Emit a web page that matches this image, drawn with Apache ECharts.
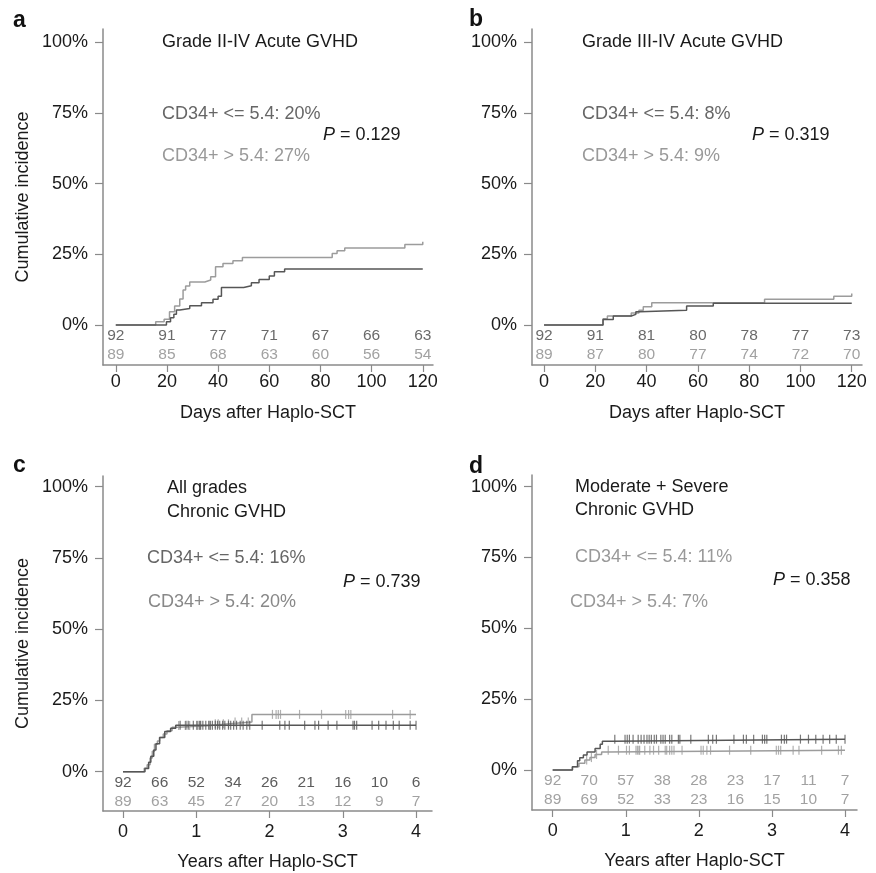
<!DOCTYPE html>
<html>
<head>
<meta charset="utf-8">
<script src="https://cdn.jsdelivr.net/npm/echarts@6/dist/echarts.min.js"></script>
<style>html,body{margin:0;padding:0;background:#fff}#c{width:876px;height:873px}</style>
</head>
<body>
<div id="c"></div>
<script>
// ---------- DATA ----------
// Panel a: Grade II-IV acute GVHD (days)
const aLowT  = [0, 19.8, 21.4, 22.7, 23.7, 25, 28.9, 33.5, 38, 40, 41.3, 50, 53, 56, 60, 62, 66, 120];
const aLowV  = [0, 1.2, 2.6, 3.8, 5.3, 5.9, 6.8, 7.9, 9.1, 10.2, 13.3, 13.9, 15.0, 16.1, 17.3, 18.8, 19.8, 19.8];
const aHighT = [0, 15.6, 18.9, 21, 23, 25, 26.3, 27.3, 28.9, 34.8, 37.1, 39, 41.9, 45.8, 49.5, 84.6, 86.5, 89.5, 113, 120];
const aHighV = [0, 1.2, 2.1, 4.7, 6.7, 9.2, 12.4, 13.8, 15.2, 15.9, 17.1, 20.6, 21.8, 22.7, 23.9, 25.3, 26.3, 27.2, 28.5, 29.4];
// Panel b: Grade III-IV acute GVHD (days)
const bLowT  = [0, 23, 27, 34, 35.8, 37.4, 55.6, 66, 120];
const bLowV  = [0, 2.0, 3.2, 3.8, 4.7, 5.2, 6.7, 7.7, 7.7];
const bHighT = [0, 23, 24.7, 34, 37, 38.7, 42, 86, 113, 120];
const bHighV = [0, 2.2, 3.2, 4.3, 5.2, 6.5, 7.9, 9.1, 10.2, 11.2];
// Panel c: all grades chronic GVHD (years)
const cLowT  = [0, 0.30, 0.35, 0.38, 0.42, 0.45, 0.50, 0.57, 0.65, 0.72, 4.0];
const cLowV  = [0, 1.1, 3.3, 5.4, 7.6, 9.8, 12.0, 14.1, 15.2, 16.3, 16.3];
const cHighT = [0, 0.29, 0.33, 0.37, 0.40, 0.43, 0.47, 0.50, 0.55, 0.60, 0.67, 0.75, 1.2, 1.45, 1.76, 4.0];
const cHighV = [0, 1.2, 2.4, 4.8, 7.2, 9.6, 10.8, 12.0, 13.2, 14.4, 15.6, 16.2, 16.8, 17.4, 20.1, 20.1];
const cLowCens  = [0.78, 0.86, 0.89, 0.96, 1.01, 1.04, 1.06, 1.09, 1.13, 1.17, 1.19, 1.22, 1.26, 1.29, 1.32, 1.36, 1.39, 1.44, 1.47, 1.51, 1.55, 1.60, 1.64, 1.69, 1.73, 1.90, 2.14, 2.21, 2.27, 2.48, 2.62, 2.67, 2.80, 2.92, 3.14, 3.16, 3.19, 3.40, 3.49, 3.59, 3.69, 3.77, 3.92, 4.0];
const cHighCens = [0.76, 0.85, 0.91, 1.01, 1.05, 1.19, 1.26, 1.30, 1.37, 1.44, 1.53, 1.62, 1.71, 2.04, 2.09, 2.12, 2.15, 2.41, 2.71, 3.04, 3.08, 3.11, 3.68, 3.92];
// Panel d: moderate + severe chronic GVHD (years)
const dLowT  = [0, 0.27, 0.34, 0.37, 0.42, 0.47, 0.58, 0.65, 0.68, 0.81, 4.0];
const dLowV  = [0, 1.2, 3.3, 4.3, 5.3, 6.4, 7.6, 9.1, 10.2, 10.9, 10.9];
const dHighT = [0, 0.27, 0.36, 0.44, 0.51, 0.58, 0.67, 0.74, 4.0];
const dHighV = [0, 1.2, 2.4, 3.5, 4.4, 5.5, 6.4, 7.0, 7.0];
const dLowCens  = [0.85, 0.99, 1.02, 1.05, 1.10, 1.17, 1.21, 1.25, 1.29, 1.32, 1.35, 1.39, 1.42, 1.48, 1.51, 1.54, 1.60, 1.63, 1.72, 1.74, 1.89, 2.13, 2.19, 2.24, 2.48, 2.61, 2.65, 2.75, 2.87, 2.90, 2.93, 3.13, 3.17, 3.20, 3.39, 3.50, 3.60, 3.70, 3.79, 3.88, 4.0];
const dHighCens = [0.465, 0.53, 0.60, 0.76, 0.90, 1.01, 1.05, 1.14, 1.16, 1.18, 1.19, 1.26, 1.33, 1.38, 1.45, 1.54, 1.56, 1.60, 1.63, 1.66, 1.77, 2.03, 2.06, 2.11, 2.16, 2.42, 2.71, 3.06, 3.09, 3.12, 3.29, 3.37, 3.68, 3.91, 3.95];
// Numbers at risk
const dayTicks  = [0, 20, 40, 60, 80, 100, 120];
const yearRisk  = [0, 0.5, 1, 1.5, 2, 2.5, 3, 3.5, 4];
const yearTicks = [0, 1, 2, 3, 4];
const yTicks    = [0, 25, 50, 75, 100];
const aRiskLow  = [92, 91, 77, 71, 67, 66, 63];
const aRiskHigh = [89, 85, 68, 63, 60, 56, 54];
const bRiskLow  = [92, 91, 81, 80, 78, 77, 73];
const bRiskHigh = [89, 87, 80, 77, 74, 72, 70];
const cRiskLow  = [92, 66, 52, 34, 26, 21, 16, 10, 6];
const cRiskHigh = [89, 63, 45, 27, 20, 13, 12, 9, 7];
const dRiskLow  = [92, 70, 57, 38, 28, 23, 17, 11, 7];
const dRiskHigh = [89, 69, 52, 33, 23, 16, 15, 10, 7];
const riskRowY = [-3.9, -10.6];

// ---------- STYLE / LAYOUT ----------
const FONT = '"Liberation Sans", Arial, Helvetica, sans-serif';
const DARK = '#565656', LIGHT = '#9c9c9c', AXIS = '#8a8a8a';

const panels = [
  {grid:{left:103, top:29, width:330, height:336}, xmin:-5, xmax:124, ymin:-14.1, ymax:104.6, ticks:dayTicks, riskT:dayTicks,
   lowT:aLowT, lowV:aLowV, highT:aHighT, highV:aHighV, lowC:[], highC:[], riskLow:aRiskLow, riskHigh:aRiskHigh,
   riskColors:['#444','#8a8a8a'], xname:'Days after Haplo-SCT', yname:'Cumulative incidence', xGap:39, xMargin:8},
  {grid:{left:532, top:29, width:330, height:336}, xmin:-4.7, xmax:124, ymin:-14.1, ymax:104.6, ticks:dayTicks, riskT:dayTicks,
   lowT:bLowT, lowV:bLowV, highT:bHighT, highV:bHighV, lowC:[], highC:[], riskLow:bRiskLow, riskHigh:bRiskHigh,
   riskColors:['#444','#8a8a8a'], xname:'Days after Haplo-SCT', yname:'', xGap:39, xMargin:8},
  {grid:{left:103, top:476, width:329, height:335}, xmin:-0.273, xmax:4.218, ymin:-13.8, ymax:103.75, ticks:yearTicks, riskT:yearRisk,
   lowT:cLowT, lowV:cLowV, highT:cHighT, highV:cHighV, lowC:cLowCens, highC:cHighCens, riskLow:cRiskLow, riskHigh:cRiskHigh,
   riskColors:['#333','#8a8a8a'], xname:'Years after Haplo-SCT', yname:'Cumulative incidence', xGap:42, xMargin:12},
  {grid:{left:532, top:475, width:325, height:335}, xmin:-0.283, xmax:4.164, ymin:-14.1, ymax:104.1, ticks:yearTicks, riskT:yearRisk,
   lowT:dLowT, lowV:dLowV, highT:dHighT, highV:dHighV, lowC:dLowCens, highC:dHighCens, riskLow:dRiskLow, riskHigh:dRiskHigh,
   riskColors:['#8a8a8a','#8a8a8a'], xname:'Years after Haplo-SCT', yname:'', xGap:42, xMargin:12}
];

function zip(T, V) { return T.map((t, i) => [t, V[i]]); }
function stepAt(T, V, t) { let v = V[0]; for (let i = 0; i < T.length; i++) if (T[i] <= t) v = V[i]; return v; }

const grids = [], xAxes = [], yAxes = [], series = [];
panels.forEach((p, i) => {
  grids.push(Object.assign({outerBoundsMode:'none', containLabel:false}, p.grid));
  xAxes.push({
    type:'value', gridIndex:i, min:p.xmin, max:p.xmax,
    axisLine:{show:true, onZero:false, lineStyle:{color:AXIS, width:1.5}},
    axisTick:{show:true, customValues:p.ticks, length:7, lineStyle:{color:AXIS, width:1.2}},
    axisLabel:{show:true, customValues:p.ticks, fontSize:18, color:'#1a1a1a', fontFamily:FONT, margin:p.xMargin},
    splitLine:{show:false},
    name:p.xname, nameLocation:'middle', nameGap:p.xGap,
    nameTextStyle:{fontSize:18, color:'#1a1a1a', fontFamily:FONT}
  });
  yAxes.push({
    type:'value', gridIndex:i, min:p.ymin, max:p.ymax,
    axisLine:{show:true, onZero:false, lineStyle:{color:AXIS, width:1.5}},
    axisTick:{show:true, customValues:yTicks, length:8, lineStyle:{color:AXIS, width:1.2}},
    axisLabel:{show:true, customValues:yTicks, formatter:'{value}%', fontSize:18, color:'#1a1a1a', fontFamily:FONT, margin:15},
    splitLine:{show:false},
    name:p.yname, nameLocation:'middle', nameGap:71,
    nameTextStyle:{fontSize:18, color:'#1a1a1a', fontFamily:FONT}
  });
  const base = {xAxisIndex:i, yAxisIndex:i, silent:true, animation:false};
  series.push(Object.assign({type:'line', step:'end', showSymbol:false, symbol:'none',
    data:zip(p.highT, p.highV), lineStyle:{color:LIGHT, width:1.5}, z:2}, base));
  series.push(Object.assign({type:'line', step:'end', showSymbol:false, symbol:'none',
    data:zip(p.lowT, p.lowV), lineStyle:{color:DARK, width:1.5}, z:3}, base));
  if (p.highC.length) series.push(Object.assign({type:'scatter', symbol:'rect', symbolSize:[1.2, 9],
    data:p.highC.map(t => [t, stepAt(p.highT, p.highV, t)]), itemStyle:{color:LIGHT}, z:2}, base));
  if (p.lowC.length) series.push(Object.assign({type:'scatter', symbol:'rect', symbolSize:[1.2, 9],
    data:p.lowC.map(t => [t, stepAt(p.lowT, p.lowV, t)]), itemStyle:{color:DARK}, z:3}, base));
  [p.riskLow, p.riskHigh].forEach((row, r) => {
    series.push(Object.assign({type:'scatter', symbolSize:0,
      data:row.map((n, k) => [p.riskT[k], riskRowY[r], n]),
      label:{show:true, position:'inside', formatter:q => String(q.value[2]), fontSize:15.5,
             color:p.riskColors[r], fontFamily:FONT}, z:4}, base));
  });
});

// ---------- TEXT ANNOTATIONS ----------
function txt(x, y, text, color, size, weight) {
  return {type:'text', x:x, y:y, silent:true,
    style:{text:text, fill:color || '#1a1a1a', fontSize:size || 18, fontFamily:FONT,
           fontWeight:weight || 'normal', verticalAlign:'middle', align:'left',
           rich:{i:{fontStyle:'italic', fontSize:size || 18, fontFamily:FONT, fill:color || '#1a1a1a'},
                 n:{fontSize:size || 18, fontFamily:FONT, fill:color || '#1a1a1a'}}}};
}
const graphics = [
  txt(13, 21, 'a', '#111', 23, 'bold'),
  txt(469, 20, 'b', '#111', 23, 'bold'),
  txt(13, 466, 'c', '#111', 23, 'bold'),
  txt(469, 467, 'd', '#111', 23, 'bold'),
  txt(162, 42, 'Grade II-IV Acute GVHD', '#1a1a1a'),
  txt(162, 114, 'CD34+ <= 5.4: 20%', '#666'),
  txt(323, 135, '{i|P}{n| = 0.129}', '#1a1a1a'),
  txt(162, 156, 'CD34+ > 5.4: 27%', '#999'),
  txt(582, 42, 'Grade III-IV Acute GVHD', '#1a1a1a'),
  txt(582, 114, 'CD34+ <= 5.4: 8%', '#666'),
  txt(752, 135, '{i|P}{n| = 0.319}', '#1a1a1a'),
  txt(582, 156, 'CD34+ > 5.4: 9%', '#999'),
  txt(167, 488, 'All grades', '#1a1a1a'),
  txt(167, 512, 'Chronic GVHD', '#1a1a1a'),
  txt(147, 558, 'CD34+ <= 5.4: 16%', '#666'),
  txt(343, 582, '{i|P}{n| = 0.739}', '#1a1a1a'),
  txt(148, 602, 'CD34+ > 5.4: 20%', '#888'),
  txt(575, 487, 'Moderate + Severe', '#1a1a1a'),
  txt(575, 510, 'Chronic GVHD', '#1a1a1a'),
  txt(575, 557, 'CD34+ <= 5.4: 11%', '#999'),
  txt(773, 580, '{i|P}{n| = 0.358}', '#1a1a1a'),
  txt(570, 602, 'CD34+ > 5.4: 7%', '#999')
];

const chart = echarts.init(document.getElementById('c'), null, {renderer:'canvas'});
chart.setOption({
  animation:false,
  backgroundColor:'#ffffff',
  grid:grids, xAxis:xAxes, yAxis:yAxes, series:series,
  graphic:graphics
});
</script>
</body>
</html>
